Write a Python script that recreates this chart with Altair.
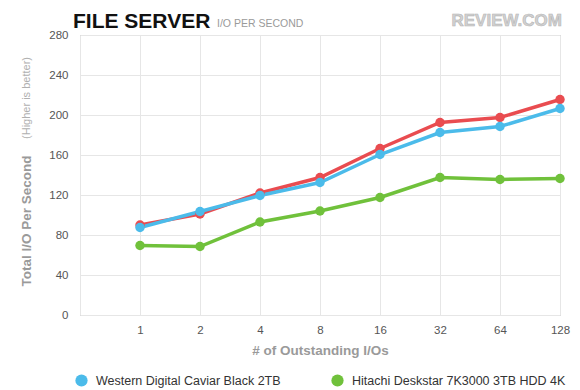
import altair as alt
import pandas as pd

# ---- data ----
io_labels = ["1", "2", "4", "8", "16", "32", "64", "128"]
name_blue = "Western Digital Caviar Black 2TB"
name_green = "Hitachi Deskstar 7K3000 3TB HDD 4K"
name_red = "Seagate Barracuda XT 3TB"
blue_vals = [87.5, 103.5, 119.5, 132.5, 160.5, 182.5, 188.5, 206.5]
green_vals = [69.5, 68.5, 93.0, 104.0, 117.5, 137.5, 135.5, 136.5]
red_vals = [90.0, 101.0, 122.0, 137.5, 166.5, 192.5, 197.5, 215.5]
y_ticks = [0, 40, 80, 120, 160, 200, 240, 280]

colors = {name_blue: "#4bbbea", name_green: "#70c13b", name_red: "#e94c50"}

rows = []
# drawing order: green, red, blue (blue on top)
for name, vals in [(name_green, green_vals), (name_red, red_vals), (name_blue, blue_vals)]:
    for lab, v in zip(io_labels, vals):
        rows.append({"io": lab, "iops": v, "drive": name})
df = pd.DataFrame(rows)

FONT = "Liberation Sans"
x_domain = [""] + io_labels
legend_order = [name_blue, name_green, name_red]
legend_shown = [name_blue, name_green]   # only these are visible in the reference

x_enc = alt.X("io:O", sort=x_domain,
              scale=alt.Scale(type="point", domain=x_domain, padding=0),
              axis=alt.Axis(title="# of Outstanding I/Os", labelAngle=0, ticks=False, domain=False,
                            labelPadding=9, labelFontSize=11.5, labelColor="#555555",
                            titleFontSize=13.5, titleColor="#9a9a9a", titleFontWeight="bold",
                            titlePadding=8, grid=True, gridColor="#e6e6e6",
                            labelFont=FONT, titleFont=FONT))
y_enc = alt.Y("iops:Q",
              scale=alt.Scale(domain=[0, 280], nice=False),
              axis=alt.Axis(title=None, values=y_ticks, ticks=False, domain=False,
                            labelPadding=12, labelFontSize=11.5, labelColor="#555555",
                            grid=True, gridColor="#e6e6e6", labelFont=FONT))
color_scale = alt.Scale(domain=legend_order, range=[colors[n] for n in legend_order])
legend = alt.Legend(title=None, orient="none", legendX=-5, legendY=339,
                    direction="horizontal", columns=2, columnPadding=50,
                    values=legend_shown,
                    symbolType="circle", symbolSize=150, symbolStrokeWidth=0,
                    labelFontSize=12.5, labelColor="#333333", labelFont=FONT,
                    labelOffset=8, padding=0, labelLimit=300, rowPadding=8)

lines = alt.Chart(df).mark_line(strokeWidth=3.5).encode(
    x=x_enc, y=y_enc,
    color=alt.Color("drive:N", scale=color_scale, legend=legend),
    detail="drive:N",
)
points = alt.Chart(df).mark_point(filled=True, size=90, opacity=1).encode(
    x=x_enc, y=y_enc,
    color=alt.Color("drive:N", scale=color_scale, legend=legend),
)

title_main = alt.Chart().mark_text(text="FILE SERVER", font=FONT, fontSize=21, fontWeight="bold",
                                    color="#111111", align="left", baseline="alphabetic").encode(
    x=alt.value(-7), y=alt.value(-7))
title_sub = alt.Chart().mark_text(text="I/O PER SECOND", font=FONT, fontSize=10.5,
                                   color="#9a9a9a", align="left", baseline="alphabetic").encode(
    x=alt.value(137), y=alt.value(-8))
logo = alt.Chart().mark_text(text="REVIEW.COM", font=FONT, fontSize=17, fontWeight="bold",
                              color="#d2d2d2", stroke="#b5b5b5", strokeWidth=0.6,
                              align="right", baseline="alphabetic").encode(
    x=alt.value(482), y=alt.value(-9))
ytitle_main = alt.Chart().mark_text(text="Total I/O Per Second", font=FONT, fontSize=13.5,
                                     fontWeight="bold", color="#9a9a9a", angle=270,
                                     align="center", baseline="middle").encode(
    x=alt.value(-53), y=alt.value(186))
ytitle_sub = alt.Chart().mark_text(text="(Higher is better)", font=FONT, fontSize=11,
                                    color="#b0b0b0", angle=270,
                                    align="center", baseline="middle").encode(
    x=alt.value(-53), y=alt.value(63))

chart = alt.layer(lines, points, title_main, title_sub, logo, ytitle_main, ytitle_sub).properties(
    width=480, height=280,
    autosize=alt.AutoSizeParams(type="none"),
    padding={"left": 72, "top": 27, "right": 12, "bottom": 90},
).configure_view(stroke="#ababab", strokeWidth=1)

chart.save("out.html", embed_options={"renderer": "svg", "actions": False})
